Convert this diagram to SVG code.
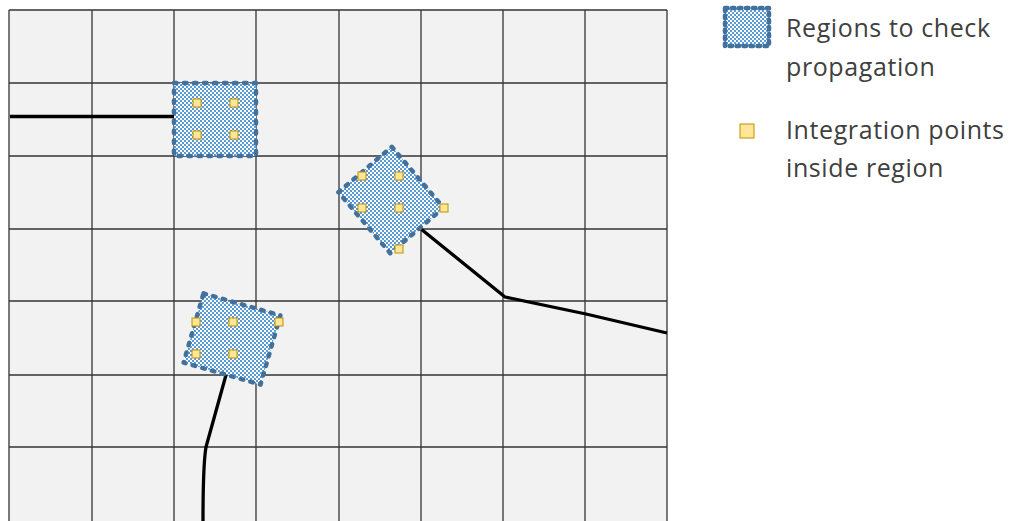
<svg xmlns="http://www.w3.org/2000/svg" width="1012" height="521" viewBox="0 0 1012 521">
<defs>
<pattern id="chk" patternUnits="userSpaceOnUse" width="4" height="4">
<rect width="4" height="4" fill="#ffffff"/>
<rect x="0" y="0" width="2" height="2" fill="#5b9bd5"/>
<rect x="2" y="2" width="2" height="2" fill="#5b9bd5"/>
</pattern>
<style>
.grid line{stroke:#333333;stroke-width:1.3}
.region{fill:url(#chk);stroke:#41719c;stroke-width:4.5;stroke-dasharray:2.5 7.5;stroke-linecap:round;stroke-linejoin:round}
.ip{fill:#ffe699;stroke:#bf9000;stroke-width:1}
.crack{fill:none;stroke:#000;stroke-width:3.3;stroke-linejoin:round;stroke-linecap:butt}
.lbl{font-family:"Open Sans","Liberation Sans",sans-serif;font-size:25px;letter-spacing:0.6px;fill:#404040}
</style>
</defs>
<rect width="1012" height="521" fill="#ffffff"/>
<g id="grid" class="grid">
<rect x="9" y="10" width="658" height="515" fill="#f2f2f2"/>
<line x1="9" y1="10" x2="9" y2="521"/>
<line x1="92" y1="10" x2="92" y2="521"/>
<line x1="174" y1="10" x2="174" y2="521"/>
<line x1="256" y1="10" x2="256" y2="521"/>
<line x1="339" y1="10" x2="339" y2="521"/>
<line x1="421" y1="10" x2="421" y2="521"/>
<line x1="503" y1="10" x2="503" y2="521"/>
<line x1="585" y1="10" x2="585" y2="521"/>
<line x1="667" y1="10" x2="667" y2="521"/>
<line x1="9" y1="10" x2="667" y2="10"/>
<line x1="9" y1="83" x2="667" y2="83"/>
<line x1="9" y1="156" x2="667" y2="156"/>
<line x1="9" y1="229" x2="667" y2="229"/>
<line x1="9" y1="301" x2="667" y2="301"/>
<line x1="9" y1="375" x2="667" y2="375"/>
<line x1="9" y1="447" x2="667" y2="447"/>
</g>
<g id="connectors">
<path class="crack" d="M10,116.5 L174,116.5"/>
<path class="crack" d="M421,229 L505,297 L586,314 L667,333"/>
<path class="crack" d="M226,375 L206,447 Q203,465 203,521"/>
</g>
<g id="region1">
<rect class="region" x="174" y="83" width="82" height="73"/>
<rect class="ip" x="193" y="99" width="8" height="8"/>
<rect class="ip" x="230" y="99" width="8" height="8"/>
<rect class="ip" x="193" y="131" width="8" height="8"/>
<rect class="ip" x="230" y="131" width="8" height="8"/>
</g>
<g id="region2">
<polygon class="region" points="391.8,146.8 443.6,207.8 390.2,253.2 338.4,192.2"/>
<rect class="ip" x="358" y="172" width="8" height="8"/>
<rect class="ip" x="395" y="172" width="8" height="8"/>
<rect class="ip" x="358" y="204" width="8" height="8"/>
<rect class="ip" x="395" y="204" width="8" height="8"/>
<rect class="ip" x="440" y="204" width="8" height="8"/>
<rect class="ip" x="395" y="245" width="8" height="8"/>
</g>
<g id="region3">
<polygon class="region" points="203.5,293.4 280.4,315.4 260.5,384.6 183.6,362.6"/>
<rect class="ip" x="192" y="318" width="8" height="8"/>
<rect class="ip" x="229" y="318" width="8" height="8"/>
<rect class="ip" x="192" y="350" width="8" height="8"/>
<rect class="ip" x="229" y="350" width="8" height="8"/>
<rect class="ip" x="275" y="318" width="8" height="8"/>
</g>
<g id="legend-regions">
<rect class="region" x="725" y="8" width="44" height="38" style="stroke-dasharray:2.5 4.5"/>
<text class="lbl" x="786" y="37">Regions to check</text>
<text class="lbl" x="786" y="76">propagation</text>
</g>
<g id="legend-points">
<rect class="ip" x="740" y="124" width="14" height="14"/>
<text class="lbl" x="786" y="139">Integration points</text>
<text class="lbl" x="786" y="177">inside region</text>
</g>
</svg>
